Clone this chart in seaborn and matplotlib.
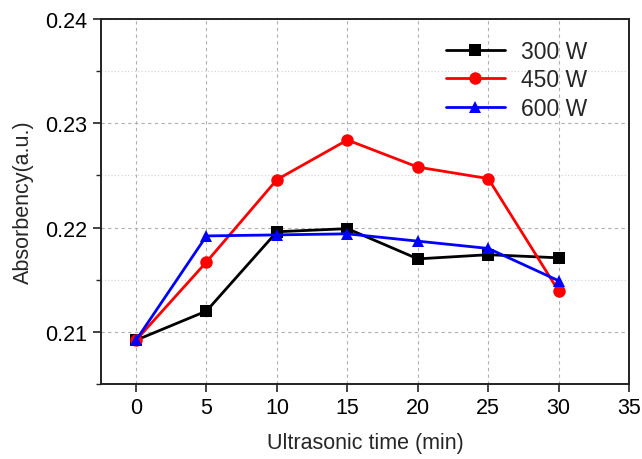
import matplotlib
matplotlib.use("Agg")
import matplotlib.pyplot as plt
import pandas as pd
import seaborn as sns
from matplotlib.ticker import MultipleLocator

TIME = [0, 5, 10, 15, 20, 25, 30]
P300 = [0.2092, 0.2120, 0.2196, 0.2199, 0.2170, 0.2174, 0.2171]
P450 = [0.2092, 0.2167, 0.2246, 0.2284, 0.2258, 0.2247, 0.2139]
P600 = [0.2092, 0.2192, 0.2193, 0.2194, 0.2187, 0.2180, 0.2149]
SERIES = ["300 W", "450 W", "600 W"]
COLORS = ["black", "red", "blue"]
MARKERS = ["s", "o", "^"]

rows = []
for name, vals in zip(SERIES, [P300, P450, P600]):
    for t, v in zip(TIME, vals):
        rows.append({"time": t, "abs": v, "power": name})
df = pd.DataFrame(rows)

sns.set_style("ticks")
plt.rcParams["font.family"] = ["Liberation Sans", "DejaVu Sans"]

fig = plt.figure(figsize=(6.42, 4.60), dpi=100)
ax = fig.add_axes([0.157, 0.163, 0.823, 0.7935])

sns.lineplot(
    data=df, x="time", y="abs", hue="power", style="power",
    palette=COLORS, markers=MARKERS, dashes=False,
    linewidth=2, markersize=9, markeredgewidth=0, ax=ax,
)

ax.set_xlim(-2.5, 35)
ax.set_ylim(0.205, 0.24)
ax.xaxis.set_major_locator(MultipleLocator(5))
ax.yaxis.set_major_locator(MultipleLocator(0.01))
ax.yaxis.set_minor_locator(MultipleLocator(0.005))
ax.yaxis.set_major_formatter(matplotlib.ticker.FormatStrFormatter("%.2f"))

ax.grid(True, which="major", linestyle=(0, (3, 3)), color="#b0b0b0", linewidth=0.8)
ax.grid(True, which="minor", axis="y", linestyle=(0, (1, 2)), color="#d0d0d0", linewidth=0.8)
ax.set_axisbelow(True)

for s in ax.spines.values():
    s.set_linewidth(1.4)
    s.set_color("#222222")
ax.tick_params(axis="both", which="major", direction="out", length=6, width=1.2,
               labelsize=15.5, colors="#222222", labelcolor="black")
ax.tick_params(axis="y", which="minor", direction="out", length=3.5, width=1.0)

ax.set_xlabel("Ultrasonic time (min)", fontsize=15.5, labelpad=10)
ax.set_ylabel("Absorbency(a.u.)", fontsize=15.5, labelpad=8)

ax.legend(loc="upper right", bbox_to_anchor=(0.96, 1.0), frameon=False,
          fontsize=16.5, handlelength=2.6, labelspacing=0.25, handletextpad=0.7)

fig.savefig("out.png", dpi=100)
